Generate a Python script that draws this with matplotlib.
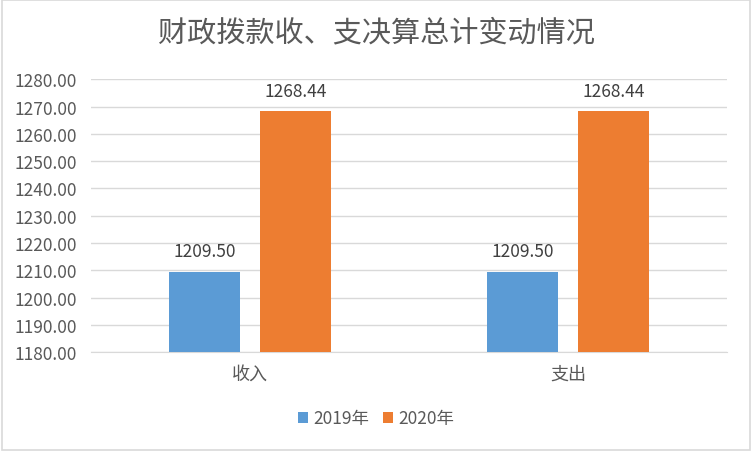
import matplotlib
matplotlib.use('Agg')
import matplotlib.pyplot as plt
import numpy as np
from matplotlib.patches import Rectangle

plt.rcParams['font.family'] = ['Noto Sans CJK SC', 'DejaVu Sans']

categories = ['收入', '支出']
series_names = ['2019年', '2020年']
values_2019 = [1209.50, 1209.50]
values_2020 = [1268.44, 1268.44]
colors = ['#5B9BD5', '#ED7D31']
txt = '#595959'

fig = plt.figure(figsize=(7.52, 4.52), dpi=100)
ax = fig.add_axes([0.121, 0.219, 0.846, 0.603])

x = np.arange(len(categories))
w = 0.223
off = 0.143
b1 = ax.bar(x - off, values_2019, w, color=colors[0], label=series_names[0], zorder=3)
b2 = ax.bar(x + off, values_2020, w, color=colors[1], label=series_names[1], zorder=3)

for bars, vals in [(b1, values_2019), (b2, values_2020)]:
    for r, v in zip(bars, vals):
        ax.annotate(f'{v:.2f}', (r.get_x() + r.get_width() / 2, v), xytext=(0, 8),
                    textcoords='offset points', ha='center', va='bottom',
                    fontsize=12.5, color='#404040')

ax.set_ylim(1180, 1280)
ax.set_yticks(np.arange(1180, 1281, 10))
ax.set_yticklabels([f'{t:.2f}' for t in np.arange(1180, 1281, 10)])
ax.set_xlim(-0.5, 1.5)
ax.set_xticks(x)
ax.set_xticklabels(categories)
ax.grid(axis='y', color='#D9D9D9', linewidth=1, zorder=0)
for s in ['top', 'right', 'left']:
    ax.spines[s].set_visible(False)
ax.spines['bottom'].set_color('#D9D9D9')
ax.tick_params(axis='y', length=0, labelsize=12.5, colors=txt, pad=10)
ax.tick_params(axis='x', length=0, labelsize=13, colors=txt, pad=9)

fig.suptitle('财政拨款收、支决算总计变动情况', y=0.96, fontsize=21, color=txt)
fig.legend(loc='center', bbox_to_anchor=(0.5, 0.072), ncol=2, frameon=False,
           fontsize=12.5, labelcolor=txt, handlelength=0.6, handleheight=0.6,
           handletextpad=0.3, columnspacing=0.8)

fig.patches.append(Rectangle((0.002, 0.002), 0.996, 0.996, transform=fig.transFigure,
                             fill=False, edgecolor='#D9D9D9', linewidth=1.2))

fig.savefig('out.png', dpi=100)
